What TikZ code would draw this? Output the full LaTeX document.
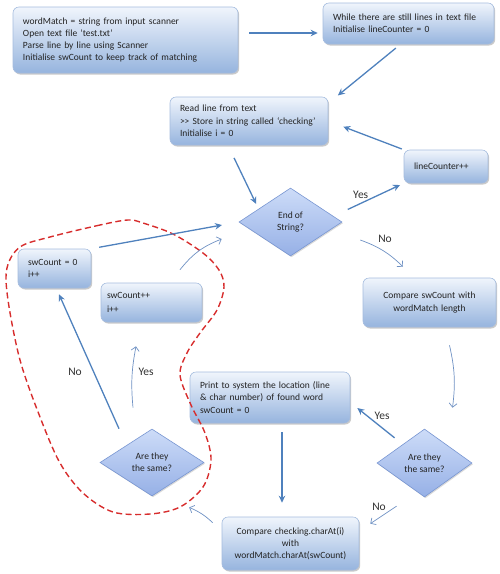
\documentclass[tikz,border=0pt]{standalone}
\usepackage{fontspec}
\setmainfont{Carlito}
\usetikzlibrary{shapes.geometric,arrows.meta,shadows,calc}
\definecolor{arrc}{RGB}{79,129,189}
\definecolor{thinc}{RGB}{110,145,195}
\definecolor{boxtop}{RGB}{240,245,252}
\definecolor{boxbot}{RGB}{150,180,222}
\definecolor{boxline}{RGB}{165,188,222}
\definecolor{diatop}{RGB}{205,220,248}
\definecolor{diabot}{RGB}{150,176,230}
\definecolor{dialine}{RGB}{120,150,210}
\definecolor{txt}{RGB}{35,35,35}
\definecolor{lbltxt}{RGB}{50,50,50}
\definecolor{redd}{RGB}{215,45,45}
\begin{document}
\begin{tikzpicture}[x=1pt,y=-1pt,
  box/.style={rounded corners=6pt, draw=boxline, line width=0.6pt,
    top color=boxtop, bottom color=boxbot,
    drop shadow={shadow xshift=1.2pt, shadow yshift=-1.5pt, opacity=0.35, fill=black!60},
    font=\fontsize{9.5}{12.3}\selectfont, text=txt, inner xsep=10pt, inner ysep=3pt, align=left},
  dia/.style={diamond, draw=dialine, line width=0.6pt, top color=diatop, bottom color=diabot,
    drop shadow={shadow xshift=1pt, shadow yshift=-1.2pt, opacity=0.25, fill=black!60},
    inner sep=0pt, align=center, font=\fontsize{9.5}{12.3}\selectfont, text=txt},
  arr/.style={draw=arrc, line width=1.3pt, -{Stealth[length=7pt,width=6.5pt]}},
  thin/.style={draw=thinc, line width=0.7pt, -{Straight Barb[length=4pt,width=8pt]}},
  lbl/.style={font=\fontsize{11.5}{13}\selectfont, text=lbltxt, inner sep=0pt},
  reddash/.style={draw=redd, line width=1.4pt, dash pattern=on 6pt off 3.5pt}
]
\useasboundingbox (0,0) rectangle (500,574);

% boxes
\node[box, minimum height=66pt, text width=205pt] (b1) at (125.5,40)
  {wordMatch = string from input scanner\\Open text file ‘test.txt’\\Parse line by line using Scanner\\Initialise swCount to keep track of matching};
\node[box, minimum height=41pt, text width=151pt] (b2) at (408.5,23.5)
  {While there are still lines in text file\\Initialise lineCounter = 0};
\node[box, minimum height=48pt, text width=138pt] (b3) at (249,121)
  {Read line from text\\\textgreater{}\textgreater{} Store in string called ‘checking’\\Initialise i = 0};
\node[box, minimum height=33pt, text width=64pt] (lc) at (446,166.5)
  {lineCounter++};
\node[box, minimum height=39pt, text width=53pt] (s0) at (54.5,268.5)
  {swCount = 0\\i++};
\node[box, minimum height=39pt, text width=89pt, inner xsep=6pt] (sp) at (151.5,302.5)
  {swCount++\\[1.5pt]i++};
\node[box, minimum height=49pt, text width=113pt, align=center] (cmp1) at (429.5,302.5)
  {Compare swCount with\\wordMatch length};
\node[box, minimum height=51pt, text width=140pt] (pr) at (270,397.5)
  {Print to system the location (line\\\& char number) of found word\\swCount = 0};
\node[box, minimum height=53pt, text width=117pt, align=center] (cmp2) at (290.5,543.5)
  {Compare checking.charAt(i)\\with\\wordMatch.charAt(swCount)};

% diamonds
\node[dia, minimum width=103pt, minimum height=68pt] (d1) at (290.5,222) {End of\\String?};
\node[dia, minimum width=95pt, minimum height=68pt] (d2) at (424.5,463) {Are they\\the same?};
\node[dia, minimum width=104pt, minimum height=67pt] (d3) at (152,462.5) {Are they\\the same?};

% dashed region
\draw[reddash] plot[smooth cycle, tension=0.55] coordinates {(128,220) (100,225) (50,237) (20,247) (7,268) (8,300) (20,360) (40,417) (60,463) (83,493) (113,512) (150,514) (180,507) (203,487) (211,460) (205,433) (191,405) (180,375) (187,353) (200,333) (217,310) (224,287) (219,270) (203,253) (173,234) (143,223)};

% connectors
\draw[arr, shorten <=11pt, shorten >=5pt] ([yshift=7pt]b1.east) -- ([yshift=7pt]b1.east -| b2.west);
\draw[arr, shorten <=6pt, shorten >=2pt] ([xshift=-8pt]b2.south) -- ([xshift=8pt]b3.north east);
\draw[arr, shorten <=2pt, shorten >=16pt] (lc.north west) -- (b3.east);
\draw[arr, shorten <=14pt, shorten >=1pt] ([xshift=-21pt]b3.south) -- ([xshift=-8pt]d1.north west);
\draw[arr, shorten <=6pt, shorten >=4pt] ([yshift=10pt]d1.east) -- node[lbl, pos=0.3, above=4pt] (yes1) {Yes} (lc.south west);
\draw[thin] ([xshift=18pt,yshift=-18pt]d1.east) to[bend left=12] ([xshift=-26.5pt,yshift=11pt]cmp1.north);
\node[lbl] (no1) at (385,239) {No};
\draw[arr, shorten <=8pt, shorten >=17pt] (s0.north east) -- (d1.west);
\draw[thin] ([xshift=28.5pt,yshift=13pt]sp.north) to[bend left=15] ([xshift=-17pt,yshift=-17pt]d1.west);
\draw[thin] ([xshift=20pt,yshift=-18pt]cmp1.south) to[bend left=10] ([xshift=28pt,yshift=21pt]d2.north);
\draw[arr] ([xshift=-6pt,yshift=8pt]d2.north west) -- ([xshift=7pt,yshift=-10.5pt]pr.east);
\node[lbl] (yes3) at (382,416) {Yes};
\draw[thin] ([xshift=-4pt,yshift=-26pt]d2.south west) -- ([xshift=11pt,yshift=-7pt]cmp2.north east);
\node[lbl] (no3) at (379,507) {No};
\draw[arr, shorten <=9pt, shorten >=14pt] ([xshift=12pt]pr.south) -- ([xshift=-8.5pt]cmp2.north);
\draw[thin] ([xshift=-9pt,yshift=-6pt]cmp2.north west) to[bend right=10] ([xshift=11pt,yshift=-28pt]d3.south east);
\draw[arr] ([xshift=-33pt]d3.north) -- ([xshift=4.5pt,yshift=-6pt]s0.south);
\node[lbl] (no2) at (75,372) {No};
\draw[thin] ([xshift=-19pt,yshift=21pt]d3.north) to[bend left=8] ([xshift=-15.5pt,yshift=-24pt]sp.south);
\node[lbl] (yes2) at (146,372) {Yes};
\end{tikzpicture}
\end{document}
